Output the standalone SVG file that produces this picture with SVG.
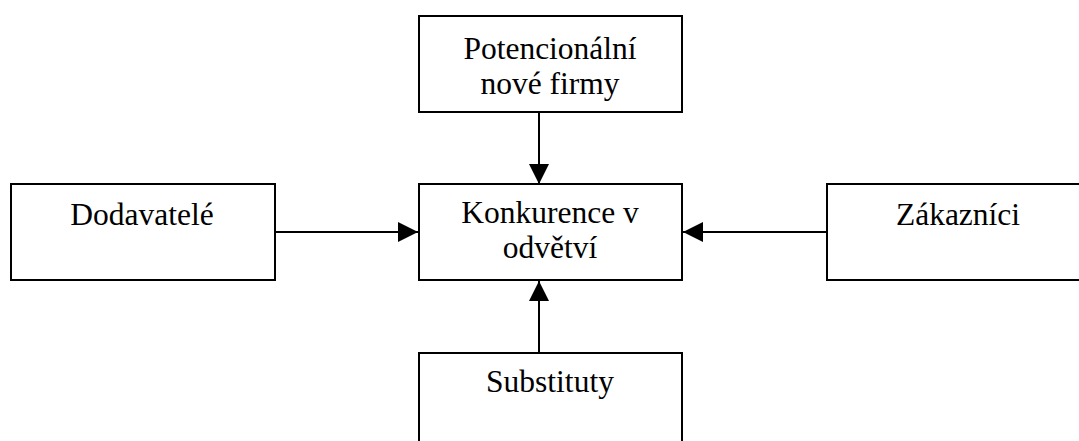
<svg xmlns="http://www.w3.org/2000/svg" width="1079" height="441" viewBox="0 0 1079 441">
<style>
.box{fill:#fff;stroke:#000;stroke-width:2}
.lbl{font-family:"Liberation Serif","Times New Roman",serif;font-size:31.5px;fill:#000;text-anchor:middle}
.con{stroke:#000;stroke-width:2;fill:none}
</style>
<defs>
<marker id="ah" viewBox="0 0 20 20" refX="20" refY="10" markerWidth="20" markerHeight="20" markerUnits="userSpaceOnUse" orient="auto">
<path d="M0,0 L20,10 L0,20 Z" fill="#000"/>
</marker>
</defs>
<rect width="1079" height="441" fill="#fff"/>
<g id="connectors">
<line class="con" x1="539" y1="112" x2="539" y2="184" marker-end="url(#ah)"/>
<line class="con" x1="275" y1="232" x2="418" y2="232" marker-end="url(#ah)"/>
<line class="con" x1="827" y1="232" x2="683" y2="232" marker-end="url(#ah)"/>
<line class="con" x1="539" y1="353" x2="539" y2="281" marker-end="url(#ah)"/>
</g>
<g id="node-potencionalni">
<rect class="box" x="419" y="16" width="263" height="96"/>
<text class="lbl" x="550" y="59">Potencionální</text>
<text class="lbl" x="550" y="94">nové firmy</text>
</g>
<g id="node-dodavatele">
<rect class="box" x="11" y="184" width="264" height="96"/>
<text class="lbl" x="142" y="225">Dodavatelé</text>
</g>
<g id="node-konkurence">
<rect class="box" x="419" y="184" width="263" height="96"/>
<text class="lbl" x="550" y="223">Konkurence v</text>
<text class="lbl" x="550" y="258">odvětví</text>
</g>
<g id="node-zakaznici">
<rect class="box" x="827" y="184" width="262" height="96"/>
<text class="lbl" x="958" y="225">Zákazníci</text>
</g>
<g id="node-substituty">
<rect class="box" x="419" y="353" width="263" height="110"/>
<text class="lbl" x="550" y="392">Substituty</text>
</g>
</svg>
